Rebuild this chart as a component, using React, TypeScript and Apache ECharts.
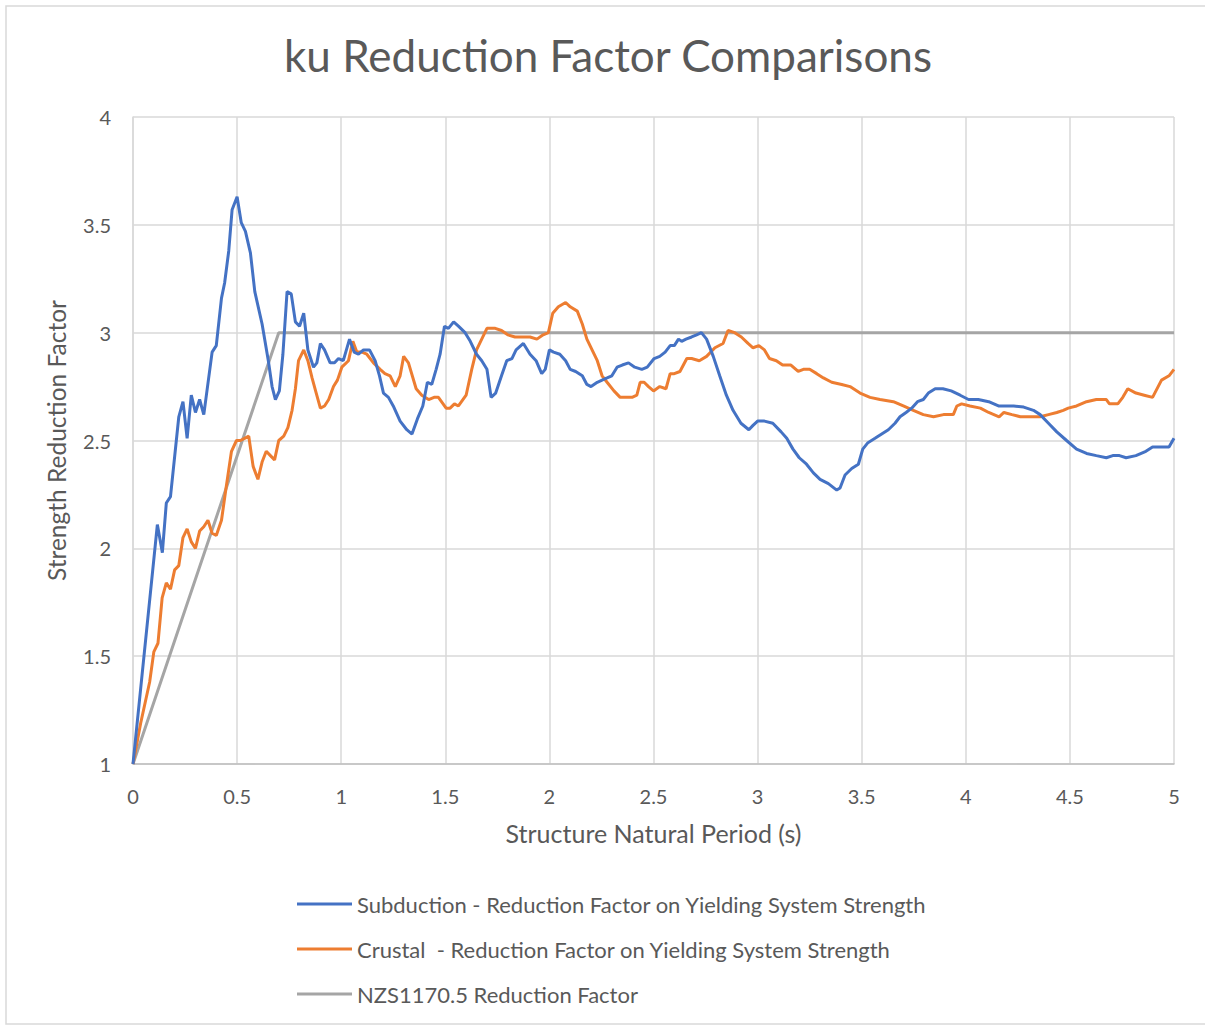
import React, { useEffect, useRef } from "react";
import * as echarts from "echarts";

const subPeriods = [0, 0.117, 0.141, 0.16, 0.18, 0.22, 0.24, 0.26, 0.28, 0.30, 0.32, 0.34, 0.38, 0.40, 0.425, 0.44, 0.46, 0.476, 0.50, 0.52, 0.54, 0.564, 0.585, 0.62, 0.65, 0.668, 0.684, 0.703, 0.72, 0.74, 0.76, 0.78, 0.80, 0.82, 0.84, 0.867, 0.883, 0.90, 0.92, 0.947, 0.968, 0.987, 1.01, 1.04, 1.062, 1.083, 1.107, 1.136, 1.163, 1.184, 1.203, 1.227, 1.25, 1.283, 1.315, 1.34, 1.366, 1.392, 1.414, 1.435, 1.456, 1.475, 1.496, 1.515, 1.54, 1.563, 1.595, 1.62, 1.65, 1.675, 1.70, 1.72, 1.742, 1.77, 1.795, 1.82, 1.84, 1.875, 1.907, 1.936, 1.963, 1.98, 2.0, 2.02, 2.05, 2.078, 2.10, 2.126, 2.158, 2.18, 2.20, 2.23, 2.253, 2.277, 2.30, 2.325, 2.35, 2.38, 2.41, 2.444, 2.47, 2.503, 2.53, 2.556, 2.58, 2.60, 2.62, 2.635, 2.656, 2.683, 2.707, 2.73, 2.755, 2.787, 2.818, 2.85, 2.882, 2.92, 2.958, 2.978, 3.0, 3.033, 3.073, 3.113, 3.14, 3.17, 3.20, 3.235, 3.268, 3.30, 3.34, 3.38, 3.396, 3.42, 3.452, 3.484, 3.505, 3.53, 3.564, 3.596, 3.628, 3.66, 3.684, 3.713, 3.74, 3.768, 3.796, 3.82, 3.853, 3.89, 3.93, 3.973, 4.013, 4.06, 4.11, 4.157, 4.23, 4.278, 4.325, 4.357, 4.397, 4.437, 4.484, 4.532, 4.58, 4.627, 4.675, 4.706, 4.738, 4.77, 4.817, 4.865, 4.897, 4.937, 4.976, 5.0];
const subValues = [1.00, 2.11, 1.98, 2.21, 2.24, 2.61, 2.68, 2.51, 2.71, 2.63, 2.69, 2.62, 2.91, 2.94, 3.16, 3.23, 3.38, 3.57, 3.63, 3.51, 3.47, 3.37, 3.19, 3.04, 2.87, 2.75, 2.69, 2.73, 2.90, 3.19, 3.18, 3.05, 3.03, 3.09, 2.92, 2.84, 2.86, 2.95, 2.92, 2.86, 2.86, 2.88, 2.87, 2.97, 2.91, 2.90, 2.92, 2.92, 2.87, 2.80, 2.72, 2.70, 2.66, 2.59, 2.55, 2.53, 2.60, 2.66, 2.77, 2.76, 2.83, 2.90, 3.03, 3.02, 3.05, 3.03, 3.00, 2.96, 2.90, 2.87, 2.83, 2.70, 2.72, 2.80, 2.87, 2.88, 2.92, 2.95, 2.90, 2.87, 2.81, 2.83, 2.92, 2.91, 2.90, 2.87, 2.83, 2.82, 2.80, 2.76, 2.75, 2.77, 2.78, 2.79, 2.80, 2.84, 2.85, 2.86, 2.84, 2.83, 2.84, 2.88, 2.89, 2.91, 2.94, 2.94, 2.97, 2.96, 2.97, 2.98, 2.99, 3.00, 2.97, 2.89, 2.80, 2.71, 2.64, 2.58, 2.55, 2.57, 2.59, 2.59, 2.58, 2.54, 2.51, 2.46, 2.42, 2.39, 2.35, 2.32, 2.30, 2.27, 2.28, 2.34, 2.37, 2.39, 2.46, 2.49, 2.51, 2.53, 2.55, 2.58, 2.61, 2.63, 2.65, 2.68, 2.69, 2.72, 2.74, 2.74, 2.73, 2.71, 2.69, 2.69, 2.68, 2.66, 2.66, 2.655, 2.64, 2.62, 2.58, 2.54, 2.50, 2.46, 2.44, 2.43, 2.42, 2.43, 2.43, 2.42, 2.43, 2.45, 2.47, 2.47, 2.47, 2.51];

const cruPeriods = [0, 0.037, 0.08, 0.10, 0.12, 0.14, 0.16, 0.18, 0.20, 0.22, 0.24, 0.26, 0.28, 0.30, 0.32, 0.34, 0.36, 0.38, 0.40, 0.425, 0.444, 0.473, 0.497, 0.516, 0.536, 0.556, 0.577, 0.60, 0.62, 0.64, 0.66, 0.68, 0.70, 0.724, 0.744, 0.764, 0.78, 0.795, 0.82, 0.84, 0.86, 0.88, 0.90, 0.92, 0.94, 0.963, 0.982, 1.003, 1.035, 1.056, 1.075, 1.10, 1.123, 1.155, 1.187, 1.21, 1.235, 1.26, 1.283, 1.30, 1.323, 1.36, 1.387, 1.42, 1.446, 1.467, 1.504, 1.523, 1.544, 1.563, 1.60, 1.627, 1.65, 1.675, 1.70, 1.74, 1.77, 1.80, 1.835, 1.875, 1.907, 1.94, 1.97, 1.995, 2.016, 2.043, 2.078, 2.10, 2.134, 2.158, 2.18, 2.205, 2.23, 2.253, 2.277, 2.31, 2.34, 2.373, 2.397, 2.42, 2.436, 2.455, 2.476, 2.50, 2.53, 2.56, 2.58, 2.60, 2.627, 2.66, 2.683, 2.72, 2.755, 2.795, 2.834, 2.858, 2.89, 2.922, 2.954, 2.978, 3.006, 3.033, 3.057, 3.09, 3.12, 3.16, 3.195, 3.22, 3.25, 3.284, 3.316, 3.356, 3.404, 3.444, 3.492, 3.54, 3.588, 3.652, 3.70, 3.748, 3.796, 3.845, 3.893, 3.94, 3.957, 3.98, 4.02, 4.07, 4.11, 4.16, 4.183, 4.222, 4.262, 4.31, 4.357, 4.397, 4.437, 4.468, 4.492, 4.532, 4.58, 4.627, 4.675, 4.69, 4.73, 4.754, 4.778, 4.817, 4.857, 4.897, 4.94, 4.976, 5.0];
const cruValues = [1.00, 1.19, 1.38, 1.52, 1.56, 1.77, 1.84, 1.81, 1.90, 1.92, 2.05, 2.09, 2.03, 2.00, 2.08, 2.10, 2.13, 2.07, 2.06, 2.13, 2.26, 2.45, 2.50, 2.50, 2.51, 2.52, 2.38, 2.32, 2.40, 2.45, 2.43, 2.41, 2.50, 2.52, 2.56, 2.64, 2.74, 2.87, 2.92, 2.87, 2.79, 2.72, 2.65, 2.66, 2.69, 2.75, 2.78, 2.84, 2.87, 2.96, 2.91, 2.91, 2.90, 2.86, 2.83, 2.81, 2.80, 2.75, 2.80, 2.89, 2.86, 2.74, 2.71, 2.69, 2.70, 2.70, 2.65, 2.65, 2.67, 2.66, 2.71, 2.83, 2.92, 2.97, 3.02, 3.02, 3.01, 2.99, 2.98, 2.98, 2.98, 2.97, 2.99, 3.00, 3.09, 3.12, 3.14, 3.12, 3.10, 3.04, 2.97, 2.92, 2.87, 2.80, 2.77, 2.73, 2.70, 2.70, 2.70, 2.71, 2.77, 2.77, 2.75, 2.73, 2.75, 2.74, 2.81, 2.81, 2.82, 2.88, 2.88, 2.87, 2.89, 2.93, 2.95, 3.01, 3.00, 2.98, 2.95, 2.93, 2.94, 2.92, 2.88, 2.87, 2.85, 2.85, 2.82, 2.83, 2.83, 2.81, 2.79, 2.77, 2.76, 2.75, 2.72, 2.70, 2.69, 2.68, 2.66, 2.64, 2.62, 2.61, 2.62, 2.62, 2.66, 2.67, 2.66, 2.65, 2.63, 2.61, 2.63, 2.62, 2.61, 2.61, 2.61, 2.62, 2.63, 2.64, 2.65, 2.66, 2.68, 2.69, 2.69, 2.67, 2.67, 2.70, 2.74, 2.72, 2.71, 2.70, 2.78, 2.80, 2.83];

const nzsPeriods = [0, 0.7, 5];
const nzsValues = [1, 3, 3];

const seriesNames = [
  "Subduction - Reduction Factor on Yielding System Strength",
  "Crustal  - Reduction Factor on Yielding System Strength",
  "NZS1170.5 Reduction Factor",
];
const seriesColors = ["#4472C4", "#ED7D31", "#A5A5A5"];

const zip = (xs: number[], ys: number[]) => xs.map((x, i) => [x, ys[i]]);

const FONT = "Lato, 'Open Sans', sans-serif";
const TXT = "#595959";

export default function App() {
  const ref = useRef<HTMLDivElement>(null);
  useEffect(() => {
    if (!ref.current) return;
    const chart = echarts.init(ref.current, undefined, { renderer: "svg" });
    const data = [zip(subPeriods, subValues), zip(cruPeriods, cruValues), zip(nzsPeriods, nzsValues)];
    chart.setOption({
      animation: false,
      backgroundColor: "#ffffff",
      textStyle: { fontFamily: FONT },
      title: {
        text: "ku Reduction Factor Comparisons",
        left: 279,
        top: 28,
        textStyle: { fontFamily: FONT, fontSize: 44, fontWeight: "normal", color: TXT },
      },
      graphic: [
        {
          type: "rect",
          shape: { x: 6, y: 6, width: 1205, height: 1018 },
          style: { fill: "none", stroke: "#d9d9d9", lineWidth: 1.5 },
          silent: true,
        },
      ],
      grid: { left: 133, right: 31, top: 117, bottom: 263 },
      legend: {
        orient: "vertical",
        left: 292,
        top: 888,
        itemWidth: 55,
        itemHeight: 3,
        itemGap: 23,
        icon: "rect",
        data: seriesNames,
        textStyle: { fontFamily: FONT, fontSize: 22, color: TXT, lineHeight: 22 },
      },
      xAxis: {
        type: "value",
        min: 0,
        max: 5,
        interval: 0.5,
        name: "Structure Natural Period (s)",
        nameLocation: "middle",
        nameGap: 56,
        nameTextStyle: { fontFamily: FONT, fontSize: 25, color: TXT },
        axisLine: { show: true, lineStyle: { color: "#bfbfbf", width: 1.5 } },
        axisTick: { show: false },
        axisLabel: { fontFamily: FONT, fontSize: 20, color: TXT, margin: 22 },
        splitLine: { show: true, lineStyle: { color: "#d9d9d9", width: 1.5 } },
      },
      yAxis: {
        type: "value",
        min: 1,
        max: 4,
        interval: 0.5,
        name: "Strength Reduction Factor",
        nameLocation: "middle",
        nameGap: 64,
        nameTextStyle: { fontFamily: FONT, fontSize: 24.5, color: TXT },
        axisLine: { show: true, lineStyle: { color: "#d9d9d9", width: 1.5 } },
        axisTick: { show: false },
        axisLabel: { fontFamily: FONT, fontSize: 20, color: TXT, margin: 22 },
        splitLine: { show: true, lineStyle: { color: "#d9d9d9", width: 1.5 } },
      },
      series: data.map((d, i) => ({
        name: seriesNames[i],
        type: "line",
        data: d,
        showSymbol: false,
        symbol: "none",
        smooth: false,
        lineStyle: { color: seriesColors[i], width: 3 },
        itemStyle: { color: seriesColors[i] },
        z: 3 - i,
      })),
    });
    return () => chart.dispose();
  }, []);
  return (
    <div
      ref={ref}
      style={{ position: "absolute", left: 0, top: 0, width: 1205, height: 1027 }}
    />
  );
}
